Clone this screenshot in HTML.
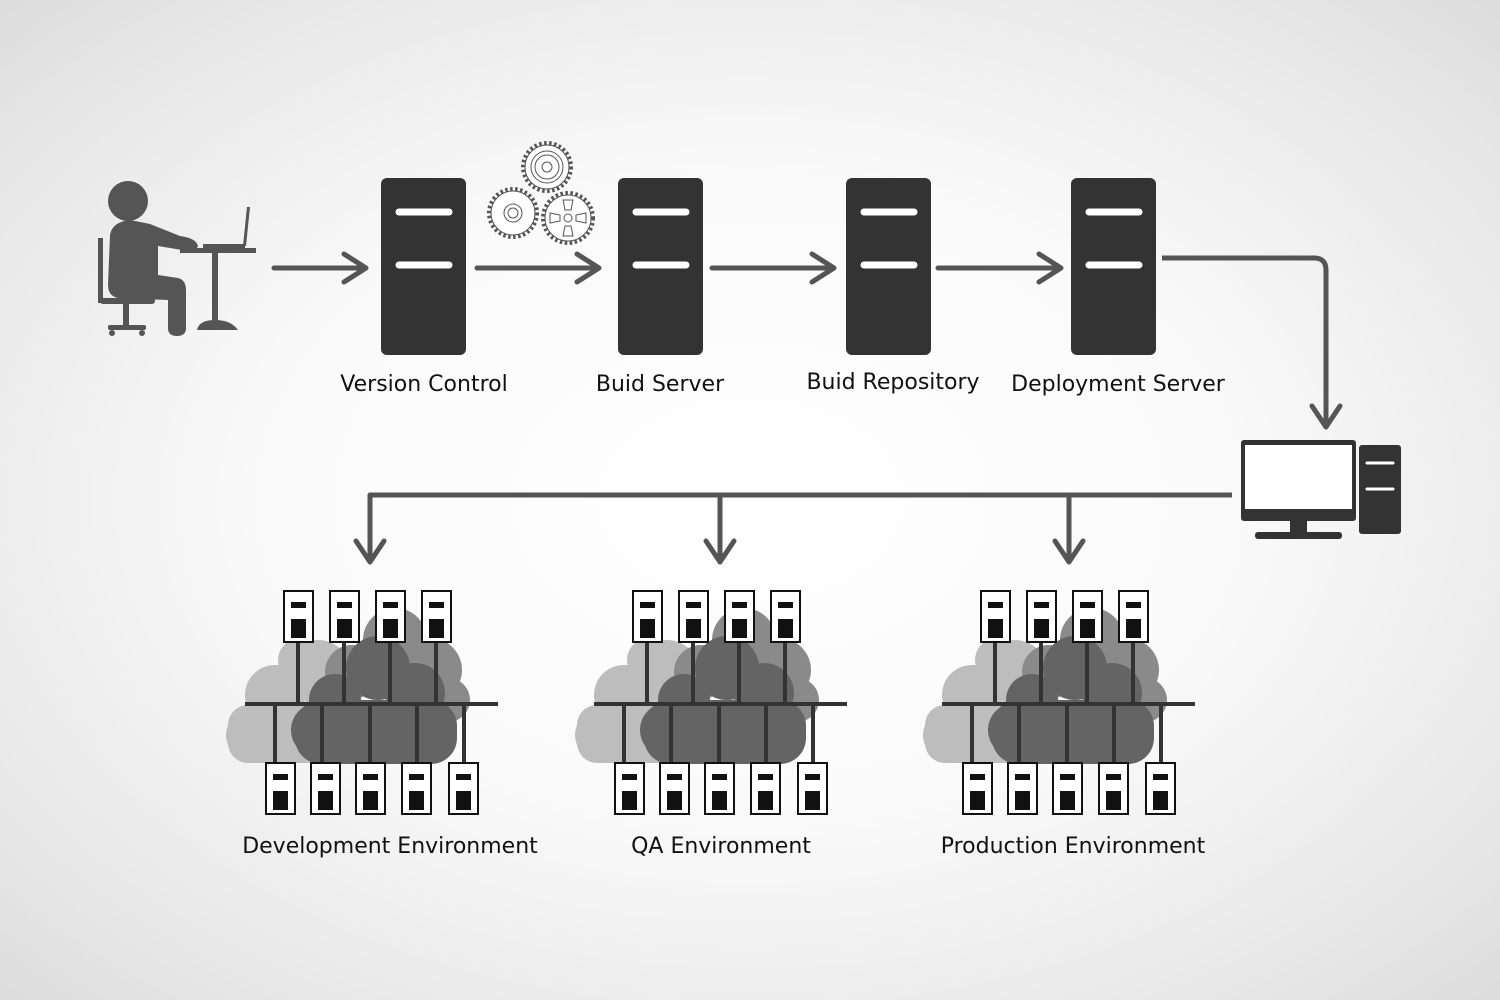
<!DOCTYPE html>
<html><head><meta charset="utf-8"><style>
html,body{margin:0;padding:0;width:1500px;height:1000px;overflow:hidden}
body{background:radial-gradient(ellipse at 50% 50%,#ffffff 0%,#fafafa 45%,#e6e6e6 85%,#dcdcdc 100%)}
svg{display:block}
text{font-family:"DejaVu Sans","Liberation Sans",sans-serif;font-size:22px;fill:#111}
</style></head><body>
<svg width="1500" height="1000" viewBox="0 0 1500 1000">
<defs>
<g id="srv">
<rect x="0" y="0" width="85" height="177" rx="6" fill="#333"/>
<line x1="18" y1="34" x2="68" y2="34" stroke="#fff" stroke-width="7" stroke-linecap="round"/>
<line x1="18" y1="87" x2="68" y2="87" stroke="#fff" stroke-width="7" stroke-linecap="round"/>
</g>
<g id="mini">
<rect x="0" y="0" width="29" height="51" fill="#fff" stroke="#111" stroke-width="2"/>
<rect x="7" y="11" width="15" height="6" fill="#111"/>
<rect x="7" y="28" width="15" height="19" fill="#111"/>
</g>
<g id="cluster">
<g fill="#bdbdbd">
<circle cx="275" cy="695" r="30"/><circle cx="250" cy="735" r="24"/><circle cx="318" cy="672" r="32"/><circle cx="300" cy="660" r="22"/>
<rect x="228" y="705" width="120" height="58" rx="20"/>
</g>
<g fill="#8a8a8a">
<circle cx="395" cy="640" r="32"/><circle cx="352" cy="672" r="27"/><circle cx="430" cy="670" r="32"/><circle cx="448" cy="700" r="22"/>
</g>
<g fill="#646464">
<circle cx="378" cy="668" r="32"/><circle cx="335" cy="700" r="26"/><circle cx="415" cy="693" r="30"/>
<rect x="295" y="700" width="162" height="64" rx="26"/>
<circle cx="318" cy="730" r="27"/>
</g>
<g stroke="#333" stroke-width="4">
<line x1="245" y1="704" x2="498" y2="704"/>
<line x1="298" y1="643" x2="298" y2="704"/><line x1="344" y1="643" x2="344" y2="704"/><line x1="390" y1="643" x2="390" y2="704"/><line x1="436" y1="643" x2="436" y2="704"/>
<line x1="275" y1="704" x2="275" y2="763"/><line x1="322" y1="704" x2="322" y2="763"/><line x1="370" y1="704" x2="370" y2="763"/><line x1="417" y1="704" x2="417" y2="763"/><line x1="464" y1="704" x2="464" y2="763"/>
</g>
<use href="#mini" x="284" y="591"/><use href="#mini" x="330" y="591"/><use href="#mini" x="376" y="591"/><use href="#mini" x="422" y="591"/>
<use href="#mini" x="266" y="763"/><use href="#mini" x="311" y="763"/><use href="#mini" x="356" y="763"/><use href="#mini" x="402" y="763"/><use href="#mini" x="449" y="763"/>
</g>
</defs>

<!-- person -->
<g fill="#555">
<circle cx="128" cy="201" r="20"/>
<path d="M110 235 Q112 222 130 220 L150 224 L180 236 Q196 238 198 246 Q196 252 182 250 L158 246 L158 275 L178 278 Q186 280 186 290 L186 328 Q186 336 177 336 Q168 336 168 328 L168 300 L118 298 Q108 296 108 285 Z"/>
<rect x="98" y="238" width="5" height="65"/>
<rect x="100" y="298" width="55" height="6" rx="3"/>
<rect x="123" y="303" width="6" height="23"/>
<rect x="108" y="325" width="38" height="5" rx="2"/>
<circle cx="112" cy="333" r="3"/><circle cx="142" cy="333" r="3"/>
<rect x="180" y="248" width="76" height="5"/>
<rect x="212" y="252" width="6" height="70"/>
<path d="M197 330 Q199 320 215 320 Q231 320 238 330 Z"/>
<rect x="203" y="244" width="42" height="4"/>
<path d="M243 246 L247 207 L250 207 L246 246 Z"/>
</g>

<!-- gears -->
<g fill="none" stroke="#555" stroke-width="1">
<circle cx="547" cy="167" r="24" stroke-dasharray="2.5 2.5" stroke-width="4"/>
<circle cx="547" cy="167" r="22" fill="#fff"/>
<circle cx="547" cy="167" r="16"/><circle cx="547" cy="167" r="12"/><circle cx="547" cy="167" r="5"/>
<circle cx="513" cy="213" r="24" stroke-dasharray="2.5 2.5" stroke-width="4"/>
<circle cx="513" cy="213" r="22" fill="#fff"/>
<circle cx="513" cy="213" r="9"/><circle cx="513" cy="213" r="5"/>
<circle cx="568" cy="218" r="25" stroke-dasharray="2.5 2.5" stroke-width="4"/>
<circle cx="568" cy="218" r="23" fill="#fff"/>
<circle cx="568" cy="218" r="4"/>
<path d="M563 200 L573 200 L571 210 L565 210 Z M563 236 L573 236 L571 226 L565 226 Z M550 213 L550 223 L560 221 L560 215 Z M586 213 L586 223 L576 221 L576 215 Z"/>
</g>

<use href="#srv" x="381" y="178"/>
<use href="#srv" x="618" y="178"/>
<use href="#srv" x="846" y="178"/>
<use href="#srv" x="1071" y="178"/>

<g stroke="#555" stroke-width="5" fill="none" stroke-linecap="round" stroke-linejoin="round">
<line x1="274" y1="268" x2="365" y2="268"/><polyline points="344,254 366,268 344,282"/>
<line x1="477" y1="268" x2="598" y2="268"/><polyline points="577,254 599,268 577,282"/>
<line x1="712" y1="268" x2="833" y2="268"/><polyline points="812,254 834,268 812,282"/>
<line x1="938" y1="268" x2="1060" y2="268"/><polyline points="1039,254 1061,268 1039,282"/>
<path d="M1162 258 L1314 258 Q1326 258 1326 270 L1326 426" stroke-linecap="butt"/><polyline points="1312,406 1326,427 1340,406"/>
<path d="M1232 495 L370 495 L370 561" stroke-linecap="butt"/><polyline points="356,541 370,562 384,541"/>
<line x1="720" y1="495" x2="720" y2="561"/><polyline points="706,541 720,562 734,541"/>
<line x1="1069" y1="495" x2="1069" y2="561"/><polyline points="1055,541 1069,562 1083,541"/>
</g>

<!-- computer -->
<g fill="#333">
<rect x="1241" y="440" width="115" height="81" rx="3"/>
<rect x="1290" y="520" width="17" height="14"/>
<rect x="1255" y="532" width="87" height="7" rx="3"/>
<rect x="1359" y="445" width="42" height="89" rx="3"/>
</g>
<rect x="1245" y="445" width="107" height="64" fill="#fff"/>
<g stroke="#fff" stroke-width="3" stroke-linecap="round"><line x1="1367" y1="463" x2="1393" y2="463"/><line x1="1367" y1="489" x2="1393" y2="489"/></g>

<use href="#cluster"/>
<use href="#cluster" x="349"/>
<use href="#cluster" x="697"/>

<text x="424" y="391" text-anchor="middle">Version Control</text>
<text x="660" y="391" text-anchor="middle">Buid Server</text>
<text x="893" y="389" text-anchor="middle">Buid Repository</text>
<text x="1118" y="391" text-anchor="middle">Deployment Server</text>
<text x="390" y="853" text-anchor="middle">Development Environment</text>
<text x="721" y="853" text-anchor="middle">QA Environment</text>
<text x="1073" y="853" text-anchor="middle">Production Environment</text>
</svg>
</body></html>
